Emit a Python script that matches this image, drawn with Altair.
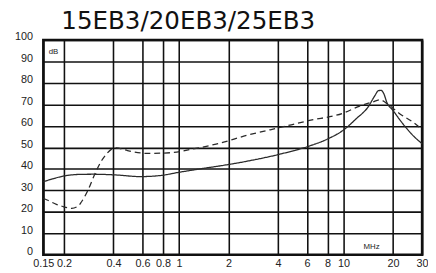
import altair as alt
import pandas as pd

# Solid curve (MHz, dB)
solid_f = [0.15, 0.17, 0.195, 0.245, 0.30, 0.406, 0.584, 0.77, 1.0, 1.4, 1.92, 2.65, 4.19,
           6.12, 8.0, 10.0, 12.0, 14.1, 15.5, 16.3, 16.9, 17.6, 18.3, 19.9, 22.8, 26.2, 30.0]
solid_db = [34.0, 35.3, 36.5, 37.4, 37.5, 37.2, 36.4, 36.9, 38.4, 40.2, 41.8, 43.7, 47.0,
            50.5, 53.9, 58.1, 63.5, 68.8, 74.1, 76.4, 76.5, 74.8, 71.0, 67.3, 61.2, 55.8, 51.7]

# Dashed curve (MHz, dB)
dash_f = [0.15, 0.158, 0.18, 0.195, 0.223, 0.245, 0.256, 0.28, 0.308, 0.34, 0.361, 0.39, 0.415,
          0.487, 0.641, 0.883, 1.22, 1.68, 2.65, 4.19, 6.12, 10.0, 12.4, 15.0, 16.6, 19.0,
          21.8, 26.2, 30.0]
dash_db = [26.2, 25.5, 23.5, 22.6, 21.6, 22.8, 24.7, 30.0, 37.5, 44.0, 46.7, 49.2, 49.8,
           48.5, 47.2, 47.5, 49.3, 51.5, 55.8, 59.4, 62.4, 66.0, 69.1, 71.1, 72.1, 69.5,
           65.8, 61.9, 58.4]

x_ticks = [0.15, 0.2, 0.4, 0.6, 0.8, 1, 2, 4, 6, 8, 10, 20, 30]
y_ticks = [0, 10, 20, 30, 40, 50, 60, 70, 80, 90, 100]

title_text = ["15EB3/20EB3/25EB3"]
title_f = [0.193]
title_db = [104.9]

notes_text = ["dB", "MHz"]
notes_f = [0.173, 14.8]
notes_db = [94.2, 3.8]

df = pd.concat([
    pd.DataFrame({"f": solid_f, "db": solid_db, "series": "solid"}),
    pd.DataFrame({"f": dash_f, "db": dash_db, "series": "dashed"}),
])
notes = pd.DataFrame({"f": notes_f, "db": notes_db, "t": notes_text})
title_df = pd.DataFrame({"f": title_f, "db": title_db, "t": title_text})

xscale = alt.Scale(type="log", domain=[0.15, 30], nice=False)
yscale = alt.Scale(domain=[0, 100], nice=False)

xaxis = alt.Axis(
    values=x_ticks, format="~g", grid=True, gridColor="#111", gridWidth=1.6, gridOpacity=1,
    ticks=False, domain=False, labelFontSize=11, labelPadding=3, labelOverlap=False,
    labelFlush=False, labelBound=False, labelColor="#222", labelFont="Liberation Sans",
    title=None)
yaxis = alt.Axis(
    values=y_ticks, grid=True, gridColor="#111", gridWidth=1.6, gridOpacity=1,
    ticks=False, domain=False, labelFontSize=11, labelPadding=11, labelOffset=-3,
    labelOverlap=False, labelFlush=False, labelBound=False,
    labelColor="#222", labelFont="Liberation Sans", title=None)

X = alt.X("f:Q", scale=xscale, axis=xaxis)
Y = alt.Y("db:Q", scale=yscale, axis=yaxis)

lines = alt.Chart(df).mark_line(interpolate="monotone", strokeWidth=1.3, color="#2a2a2a").encode(
    x=X, y=Y,
    strokeDash=alt.StrokeDash("series:N", scale=alt.Scale(domain=["solid", "dashed"],
                              range=[[1, 0], [6, 4]]), legend=None),
    detail="series:N",
)

texts = alt.Chart(notes).mark_text(fontSize=8, font="Liberation Sans", color="#222").encode(
    x=X, y=Y, text="t:N",
)

title = alt.Chart(title_df).mark_text(fontSize=25, font="DejaVu Sans", color="#111",
                                      align="left", baseline="alphabetic").encode(
    x=X, y=Y, text="t:N",
)

chart = alt.layer(lines, texts, title).properties(
    width=386, height=219,
    autosize=alt.AutoSizeParams(type="none"),
    padding={"left": 36, "top": 30, "right": 6, "bottom": 16},
).configure_view(stroke="#111", strokeWidth=2.6)

chart.save("out.html", embed_options={"renderer": "svg", "actions": False})
